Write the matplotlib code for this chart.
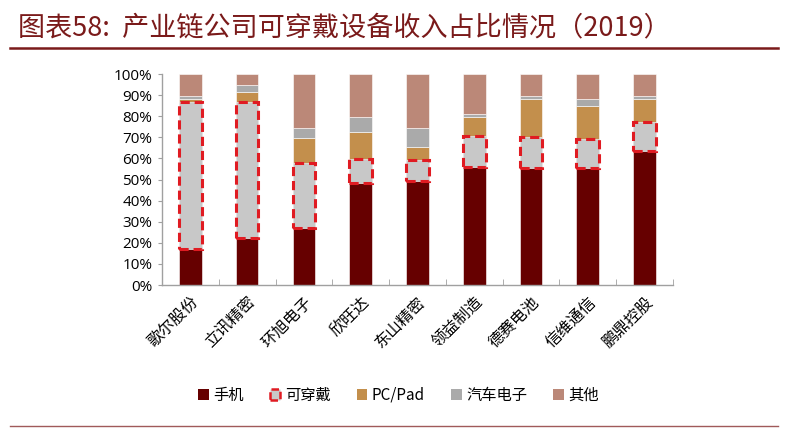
import matplotlib.pyplot as plt
import numpy as np
from matplotlib.patches import Rectangle
from matplotlib.lines import Line2D

plt.rcParams['font.family'] = ['Noto Sans CJK SC', 'DejaVu Sans']

# data (percent of 2019 revenue)
companies = ['歌尔股份', '立讯精密', '环旭电子', '欣旺达', '东山精密',
             '领益制造', '德赛电池', '信维通信', '鹏鼎控股']
phone = [17.0, 22.1, 26.9, 48.5, 49.4, 56.1, 55.3, 55.6, 63.7]
wearable = [69.9, 64.5, 30.8, 11.1, 9.8, 14.5, 15.0, 13.6, 13.6]
pc_pad = [1.3, 4.7, 11.8, 13.1, 6.4, 8.9, 17.7, 15.8, 10.9]
auto = [1.4, 3.6, 4.7, 6.8, 8.6, 1.5, 1.7, 3.0, 1.5]
other = [10.4, 5.1, 25.8, 20.5, 25.8, 19.0, 10.3, 12.0, 10.3]
series_names = ['手机', '可穿戴', 'PC/Pad', '汽车电子', '其他']
title = '图表58:  产业链公司可穿戴设备收入占比情况（2019）'

c_phone = '#660000'
c_wear = '#c8c8c8'
c_pc = '#c38f4c'
c_auto = '#aaaaaa'
c_other = '#bb8878'
c_red = '#e01b22'

fig = plt.figure(figsize=(8.05, 4.28), dpi=100)
ax = fig.add_axes([0.2012, 0.334, 0.6348, 0.493])

x = np.arange(len(companies))
w = 0.4
bottom = np.zeros(len(companies))

ax.bar(x, phone, w, bottom=bottom, color=c_phone, edgecolor='white', linewidth=0.4)
bottom += phone
ax.bar(x, wearable, w, bottom=bottom, color=c_wear, edgecolor=c_red,
       linewidth=2.2, linestyle=(0, (3, 1.6)), zorder=3)
bottom += wearable
ax.bar(x, pc_pad, w, bottom=bottom, color=c_pc, edgecolor='white', linewidth=0.4)
bottom += pc_pad
ax.bar(x, auto, w, bottom=bottom, color=c_auto, edgecolor='white', linewidth=0.4)
bottom += auto
ax.bar(x, other, w, bottom=bottom, color=c_other, edgecolor='white', linewidth=0.4)

ax.set_xlim(-0.5, len(companies) - 0.5)
ax.set_ylim(0, 100)
ax.set_yticks(np.arange(0, 101, 10))
ax.set_yticklabels(['{}%'.format(v) for v in range(0, 101, 10)],
                   family=['Open Sans', 'DejaVu Sans'], fontsize=11)
ax.set_xticks(x)
ax.set_xticklabels(companies, rotation=45, ha='right', rotation_mode='anchor',
                   fontsize=11.5)
ax.tick_params(axis='x', length=0, pad=6)
ax.set_xticks(np.arange(0.5, len(companies) - 0.5 + 0.01, 1), minor=True)
ax.tick_params(axis='x', which='minor', direction='in', length=4, color='#a0a0a0')
ax.tick_params(axis='y', direction='out', length=3, color='#a0a0a0', pad=4)
for s in ['top', 'right']:
    ax.spines[s].set_visible(False)
for s in ['left', 'bottom']:
    ax.spines[s].set_color('#a0a0a0')
    ax.spines[s].set_linewidth(1.0)

# legend
handles = [
    Rectangle((0, 0), 1, 1, facecolor=c_phone, edgecolor='none'),
    Rectangle((0, 0), 1, 1, facecolor=c_wear, edgecolor=c_red, linewidth=1.8,
              linestyle=(0, (3, 1.5))),
    Rectangle((0, 0), 1, 1, facecolor=c_pc, edgecolor='none'),
    Rectangle((0, 0), 1, 1, facecolor=c_auto, edgecolor='none'),
    Rectangle((0, 0), 1, 1, facecolor=c_other, edgecolor='none'),
]
fig.legend(handles, series_names, loc='center', bbox_to_anchor=(0.495, 0.077),
           ncol=5, frameon=False, fontsize=11, handlelength=0.7,
           handleheight=0.7, handletextpad=0.3, columnspacing=1.7)

# title and rules
fig.text(0.022, 0.935, title, fontsize=19.5, style='italic', color='#7a1a1a',
         va='center', ha='left')
fig.add_artist(Line2D([0.012, 0.967], [0.889, 0.889], color='#7a1a1a', linewidth=1.8))
fig.add_artist(Line2D([0.012, 0.967], [0.004, 0.004], color='#a05a5a', linewidth=1.0))

fig.savefig('out.png', dpi=100)
